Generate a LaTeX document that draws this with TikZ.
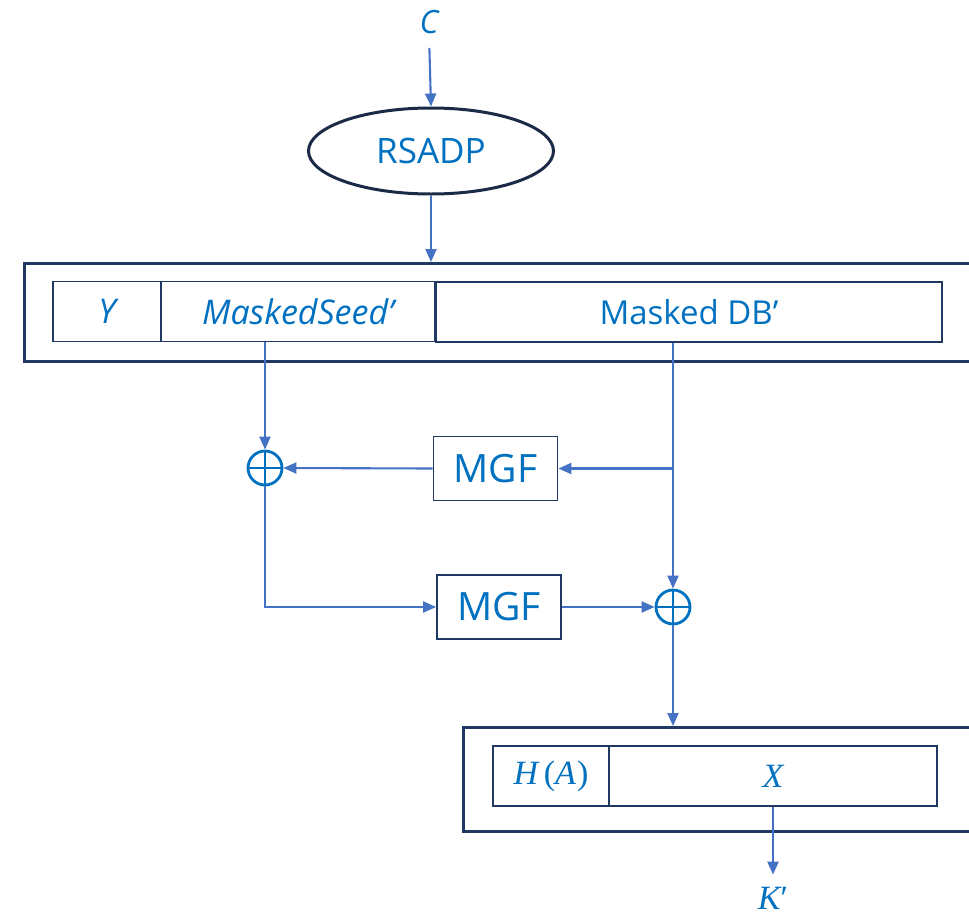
\documentclass[tikz,border=0pt]{standalone}
\usepackage{fontspec}
\setmainfont{Open Sans}
\newfontfamily\symserif{Liberation Serif}
\usetikzlibrary{arrows.meta,shapes.geometric}
\definecolor{txtblue}{HTML}{0070C0}
\definecolor{arrblue}{HTML}{4472C4}
\definecolor{navy}{HTML}{1F3864}
\definecolor{deepnavy}{HTML}{1B2A47}
% italic serif variables with upright brackets
\newcommand{\svar}[1]{{\symserif\itshape #1}}
\begin{document}
\begin{tikzpicture}[x=1pt,y=-1pt,
  lbl/.style={text=txtblue, inner sep=0pt},
  cell/.style={draw=navy, line width=1.8pt, minimum height=60pt, inner sep=0pt,
    text=txtblue, font=\fontsize{33}{33}\selectfont},
  frame/.style={draw=navy, line width=3pt, anchor=north west, inner sep=0pt},
  mgfbox/.style={draw=navy, line width=1.8pt, minimum width=124pt, minimum height=64pt,
    inner sep=0pt, text=txtblue, font=\fontsize{39}{39}\selectfont},
  arr/.style={draw=arrblue, line width=2.1pt, -{Triangle[width=11pt,length=13pt]}},
  xor/.style={circle, draw=txtblue, line width=2.8pt, minimum size=34pt, inner sep=0pt,
    path picture={\draw[txtblue, line width=2.8pt]
      (path picture bounding box.north) -- (path picture bounding box.south)
      (path picture bounding box.west) -- (path picture bounding box.east);}}
]
\useasboundingbox (0,0) rectangle (969,918);
\clip (0,0) rectangle (969,918);

% input ciphertext and decryption primitive
\node[lbl, font=\fontsize{32}{32}\selectfont\itshape] (c) at (429,22) {C};
\node[ellipse, draw=deepnavy, line width=3pt, minimum width=245pt, minimum height=86pt,
  inner sep=0pt, text=txtblue, font=\fontsize{35}{35}\selectfont] (rsadp) at (431,151) {RSADP};

% encoded message frame
\node[frame, minimum width=980pt, minimum height=98pt] (frame1) at (23,262) {};
\node[cell, minimum width=108pt, font=\fontsize{34}{34}\selectfont\itshape] (y) at (107,311.5) {Y};
\node[cell, minimum width=274pt, font=\fontsize{34}{34}\selectfont\itshape] (seed) at (298,311.5) {MaskedSeed’};
\node[cell, minimum width=506pt] (db) at (689,312) {Masked DB’};

% mask generation and xor stages
\node[xor] (xor1) at (265,468) {};
\node[mgfbox] (mgf1) at (495.5,468.5) {MGF};
\node[mgfbox] (mgf2) at (499,607) {MGF};
\node[xor] (xor2) at (673,607) {};
\coordinate (split) at (xor2 |- mgf1);

% recovered data block frame
\node[frame, minimum width=530pt, minimum height=104pt] (frame2) at (462,726) {};
\node[cell, minimum width=116pt, font=\fontsize{34}{34}\symserif] (ha) at (551,776) {\svar{H}\,(\svar{A}\kern1pt)};
\node[cell, minimum width=328pt, font=\fontsize{34}{34}\symserif] (x) at (773,776) {\svar{X}};
\node[lbl, font=\fontsize{34}{34}\symserif] (k) at (773,898) {\svar{K}′};

% connectors
\draw[arr, shorten <=14pt] (c.south) -- (rsadp.north);
\draw[arr] (rsadp.south) -- (rsadp |- frame1.north);
\draw[arr] (xor1 |- seed.south) -- (xor1.north);
\draw[arr] (xor2 |- db.south) -- (xor2.north);
\draw[arr] (split) -- (mgf1.east);
\draw[arr] (mgf1.west) -- (xor1.east);
\draw[arr] (xor1.south) |- (mgf2.west);
\draw[arr] (mgf2.east) -- (xor2.west);
\draw[arr] (xor2.south) -- (xor2 |- frame2.north);
\draw[arr, shorten >=12pt] (x.south) -- (k.north);
\end{tikzpicture}
\end{document}
